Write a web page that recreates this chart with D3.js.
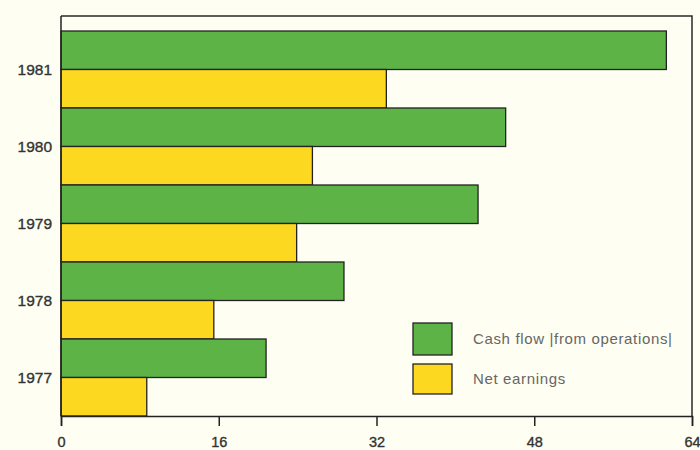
<!DOCTYPE html>
<html>
<head>
<meta charset="utf-8">
<script src="https://cdn.jsdelivr.net/npm/d3@7"></script>
<style>
  html, body { margin: 0; padding: 0; background: #fffef2; }
  svg { display: block; }
</style>
</head>
<body>
<svg id="chart" width="700" height="450"></svg>
<script>
// Years, top to bottom
const years = ["1981", "1980", "1979", "1978", "1977"];
// Cash flow from operations
const cashFlow = [61.4, 45.1, 42.3, 28.7, 20.8];
// Net earnings
const netEarnings = [33.0, 25.5, 23.9, 15.5, 8.7];
const xTicks = [0, 16, 32, 48, 64];
const seriesNames = ["Cash flow |from operations|", "Net earnings"];
const seriesColors = ["#5db346", "#fcd820"];

const svg = d3.select("#chart");
const plotLeft = 61, plotRight = 692, plotTop = 16, plotBottom = 416;

const x = d3.scaleLinear().domain([0, 64]).range([plotLeft, plotRight]);
const y = d3.scaleBand().domain(years).range([plotBottom - 385, plotBottom]).padding(0);
const inner = d3.scaleBand().domain([0, 1]).range([0, y.bandwidth()]).padding(0);

// Frame: top and right edges
svg.append("path")
  .attr("d", `M${plotLeft},${plotTop}H${plotRight}V${plotBottom}`)
  .attr("fill", "none").attr("stroke", "#2a2a2a").attr("stroke-width", 1.5);

// Bars
const rows = years.map((yr, i) => ({ yr, vals: [cashFlow[i], netEarnings[i]] }));
const g = svg.append("g");
rows.forEach(r => {
  r.vals.forEach((v, k) => {
    g.append("rect")
      .attr("x", x(0))
      .attr("y", y(r.yr) + inner(k))
      .attr("width", x(v) - x(0))
      .attr("height", inner.bandwidth())
      .attr("fill", seriesColors[k])
      .attr("stroke", "#222")
      .attr("stroke-width", 1.3);
  });
});

// Left axis line and year labels
svg.append("line")
  .attr("x1", plotLeft).attr("x2", plotLeft).attr("y1", plotTop).attr("y2", plotBottom)
  .attr("stroke", "#222").attr("stroke-width", 1.5);
svg.append("g").selectAll("text").data(years).join("text")
  .attr("x", 52)
  .attr("y", d => y(d) + y.bandwidth() / 2)
  .attr("dy", "0.35em")
  .attr("text-anchor", "end")
  .attr("font-family", "Liberation Sans, Arial, sans-serif")
  .attr("font-size", 15.5)
  .attr("fill", "#333")
  .attr("stroke", "#333").attr("stroke-width", 0.35)
  .text(d => d);

// Bottom axis
const xAxis = d3.axisBottom(x).tickValues(xTicks).tickSize(10).tickPadding(11).tickFormat(d3.format("d"));
const ax = svg.append("g").attr("transform", `translate(0,${plotBottom})`).call(xAxis);
ax.select(".domain").attr("stroke", "#222").attr("stroke-width", 1.5);
ax.selectAll(".tick line").attr("stroke", "#222").attr("stroke-width", 1.5);
ax.selectAll(".tick text")
  .attr("font-family", "Liberation Sans, Arial, sans-serif")
  .attr("font-size", 14.5)
  .attr("fill", "#333")
  .attr("stroke", "#333").attr("stroke-width", 0.35);

// Legend
const leg = svg.append("g");
seriesNames.forEach((name, k) => {
  const ly = [323, 364][k];
  const lh = [32, 30][k];
  leg.append("rect")
    .attr("x", 413).attr("y", ly).attr("width", 39).attr("height", lh)
    .attr("fill", seriesColors[k]).attr("stroke", "#222").attr("stroke-width", 1.3);
  leg.append("text")
    .attr("x", 473).attr("y", ly + lh / 2)
    .attr("dy", "0.35em")
    .attr("font-family", "Liberation Sans, Arial, sans-serif")
    .attr("font-size", 15)
    .attr("letter-spacing", 0.65)
    .attr("fill", "#666")
    .text(name);
});
</script>
</body>
</html>
